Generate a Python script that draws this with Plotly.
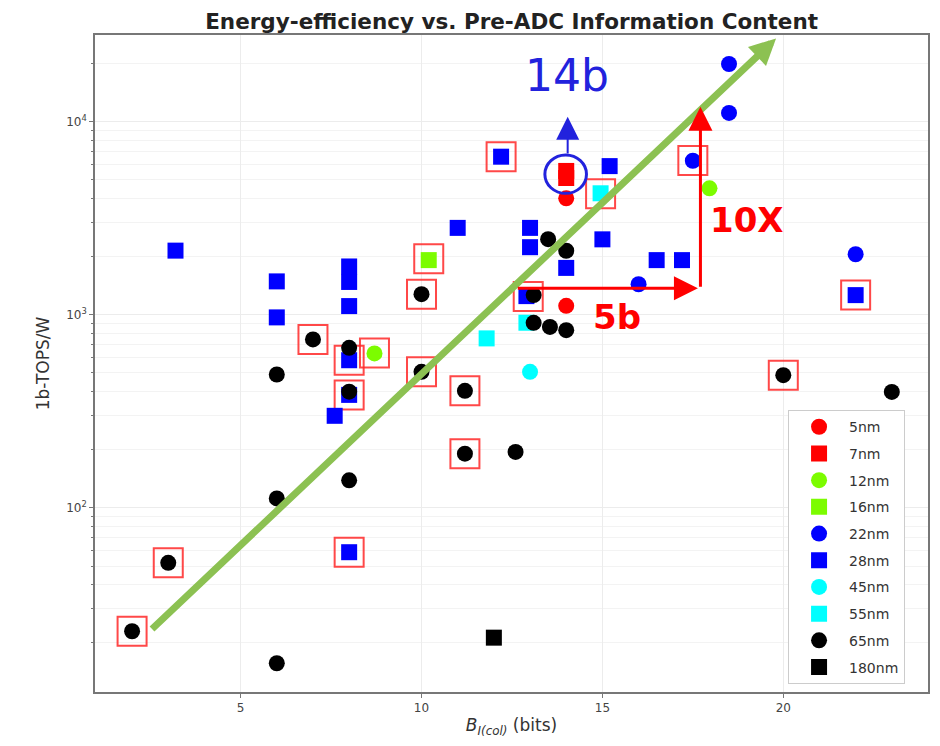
import numpy as np
import plotly.graph_objects as go

# ---------------- data ----------------
nm5_x = [14.0, 14.0]
nm5_y = [4010, 1113]
nm7_x = [14.0, 14.0]
nm7_y = [5560, 5110]
nm12_x = [8.7, 17.96]
nm12_y = [631, 4520]
nm16_x = [10.2]
nm16_y = [1920]
nm22_x = [16.0, 18.5, 18.5, 17.5, 22.0]
nm22_y = [1440, 19900, 11100, 6280, 2060]
nm28_x = [3.2, 6.0, 6.0, 8.0, 8.0, 8.0, 8.0, 8.0, 7.6, 8.0, 11.0, 12.2, 13.0, 13.0,
          12.9, 14.0, 15.2, 15.0, 16.5, 17.2, 22.0]
nm28_y = [2150, 1490, 970, 1780, 1480, 1110, 582, 385, 300, 59, 2820, 6590, 2820, 2240,
          1250, 1750, 5890, 2460, 1920, 1920, 1265]
nm45_x = [13.0]
nm45_y = [507]
nm55_x = [11.8, 12.9, 14.95]
nm55_y = [755, 910, 4260]
nm65_x = [2.0, 3.0, 6.0, 6.0, 8.0, 6.0, 7.0, 8.0, 8.0, 10.0, 10.0, 11.2, 11.2, 12.6,
          13.1, 13.55, 14.0, 13.1, 13.5, 14.0, 20.0, 23.0]
nm65_y = [23, 52, 15.7, 112, 139, 491, 746, 675, 400, 1280, 507, 404, 191, 195,
          909, 866, 833, 1265, 2466, 2147, 487, 399]
nm180_x = [12.0]
nm180_y = [21.3]

# highlighted (red boxed) designs
hl_x = [2.0, 3.0, 7.0, 8.0, 8.7, 8.0, 8.0, 10.0, 10.0, 10.2, 11.2, 11.2, 12.2, 12.95,
        14.95, 17.5, 20.0, 22.0]
hl_y = [23, 52, 746, 582, 635, 385, 59, 1280, 507, 1950, 404, 191, 6590, 1245,
        4230, 6300, 487, 1265]

x_ticks = [5, 10, 15, 20]
y_ticks = [100, 1000, 10000]
y_ticktext = ["10<sup>2</sup>", "10<sup>3</sup>", "10<sup>4</sup>"]

# annotation anchors (data units)
trend_start = (2.51, 23.2)
trend_end = (19.8, 27000)
arrow5b_start = (12.62, 1371)
arrow5b_end = (17.64, 1371)
arrow10x_start = (17.71, 1371)
arrow10x_end = (17.71, 11970)
arrow14b_start = (14.04, 6722)
arrow14b_end = (14.04, 10620)
ellipse14b = (13.41, 14.56, 4256, 6722)
label_5b = (15.4, 973)
label_10x = (19.01, 3097)
label_14b = (14.01, 17260)

RED = "#ff0000"
LIME = "#7cfc00"
BLUE = "#0000ff"
CYAN = "#00ffff"
BLACK = "#000000"
TREND = "#8cc152"
ANN_BLUE = "#2222dd"

series = [
    ("5nm", nm5_x, nm5_y, RED, "circle"),
    ("7nm", nm7_x, nm7_y, RED, "square"),
    ("12nm", nm12_x, nm12_y, LIME, "circle"),
    ("16nm", nm16_x, nm16_y, LIME, "square"),
    ("22nm", nm22_x, nm22_y, BLUE, "circle"),
    ("28nm", nm28_x, nm28_y, BLUE, "square"),
    ("45nm", nm45_x, nm45_y, CYAN, "circle"),
    ("55nm", nm55_x, nm55_y, CYAN, "square"),
    ("65nm", nm65_x, nm65_y, BLACK, "circle"),
    ("180nm", nm180_x, nm180_y, BLACK, "square"),
]

fig = go.Figure()

fig.add_trace(go.Scatter(
    x=hl_x, y=hl_y, mode="markers", showlegend=False, hoverinfo="skip",
    marker=dict(symbol="square-open", size=29, color="rgba(255,40,40,0.85)",
                line=dict(width=2, color="rgba(255,40,40,0.85)")),
))

for name, xs, ys, col, sym in series:
    fig.add_trace(go.Scatter(
        x=xs, y=ys, mode="markers", name=name, legendgroup=name,
        marker=dict(symbol=sym, size=16, color=col, line=dict(width=0)),
    ))

lg = np.log10
annotations = [
    dict(x=trend_end[0], y=lg(trend_end[1]), ax=trend_start[0], ay=lg(trend_start[1]),
         xref="x", yref="y", axref="x", ayref="y", text="", showarrow=True,
         arrowhead=2, arrowsize=0.75, arrowwidth=7, arrowcolor=TREND, standoff=0),
    dict(x=arrow5b_end[0], y=lg(arrow5b_end[1]), ax=arrow5b_start[0], ay=lg(arrow5b_start[1]),
         xref="x", yref="y", axref="x", ayref="y", text="", showarrow=True,
         arrowhead=2, arrowsize=1.6, arrowwidth=3, arrowcolor=RED, standoff=0),
    dict(x=arrow10x_end[0], y=lg(arrow10x_end[1]), ax=arrow10x_start[0], ay=lg(arrow10x_start[1]),
         xref="x", yref="y", axref="x", ayref="y", text="", showarrow=True,
         arrowhead=2, arrowsize=1.6, arrowwidth=3, arrowcolor=RED, standoff=0),
    dict(x=arrow14b_end[0], y=lg(arrow14b_end[1]), ax=arrow14b_start[0], ay=lg(arrow14b_start[1]),
         xref="x", yref="y", axref="x", ayref="y", text="", showarrow=True,
         arrowhead=2, arrowsize=2.3, arrowwidth=2, arrowcolor=ANN_BLUE, standoff=0),
    dict(x=label_5b[0], y=lg(label_5b[1]), xref="x", yref="y", text="<b>5b</b>",
         showarrow=False, font=dict(family="DejaVu Sans", size=34, color=RED)),
    dict(x=label_10x[0], y=lg(label_10x[1]), xref="x", yref="y", text="<b>10X</b>",
         showarrow=False, font=dict(family="DejaVu Sans", size=34, color=RED)),
    dict(x=label_14b[0], y=lg(label_14b[1]), xref="x", yref="y", text="14b",
         showarrow=False, font=dict(family="DejaVu Sans", size=44, color=ANN_BLUE)),
]

shapes = [
    dict(type="circle", xref="x", yref="y", x0=ellipse14b[0], x1=ellipse14b[1],
         y0=ellipse14b[2], y1=ellipse14b[3], line=dict(color=ANN_BLUE, width=3)),
]

fig.update_layout(
    width=924, height=730,
    margin=dict(l=87, r=4, t=27, b=46, autoexpand=False),
    paper_bgcolor="white", plot_bgcolor="white",
    font=dict(family="DejaVu Sans", color="#333"),
    title=dict(text="<b>Energy-efficiency vs. Pre-ADC Information Content</b>",
               x=0.545, xanchor="center", y=0.982, yanchor="middle",
               font=dict(family="DejaVu Sans", size=21.5, color="#222")),
    showlegend=True,
    legend=dict(x=0.832, y=0.429, xanchor="left", yanchor="top",
                bgcolor="white", bordercolor="#cccccc", borderwidth=1,
                font=dict(size=14, color="#333"), tracegroupgap=5.5,
                traceorder="grouped", itemwidth=50),
    annotations=annotations,
    shapes=shapes,
)

fig.update_xaxes(
    range=[0.975, 24.0], tickmode="array", tickvals=x_ticks, automargin=False,
    ticks="outside", ticklen=4, tickcolor="#777", tickfont=dict(size=12, color="#444"),
    showgrid=True, gridcolor="#ececec", gridwidth=1, zeroline=False,
    showline=True, linecolor="#777", linewidth=1.5, mirror=True,
    title=dict(text="<i>B</i><sub><i>I(col)</i></sub> (bits)",
               font=dict(size=17, color="#333"), standoff=19),
)
fig.update_yaxes(
    type="log", range=[1.047, 4.449], tickmode="array", tickvals=y_ticks,
    ticktext=y_ticktext, ticks="outside", ticklen=4, tickcolor="#777", automargin=False,
    tickfont=dict(size=12, color="#444"),
    showgrid=True, gridcolor="#ececec", gridwidth=1, zeroline=False,
    showline=True, linecolor="#777", linewidth=1.5, mirror=True,
    minor=dict(ticks="outside", ticklen=2.5, tickcolor="#777", showgrid=True,
               gridcolor="#f3f3f3", dtick="D1"),
    title=dict(text="1b-TOPS/W", font=dict(size=17, color="#333"), standoff=12),
)

fig.write_html("out.html")
